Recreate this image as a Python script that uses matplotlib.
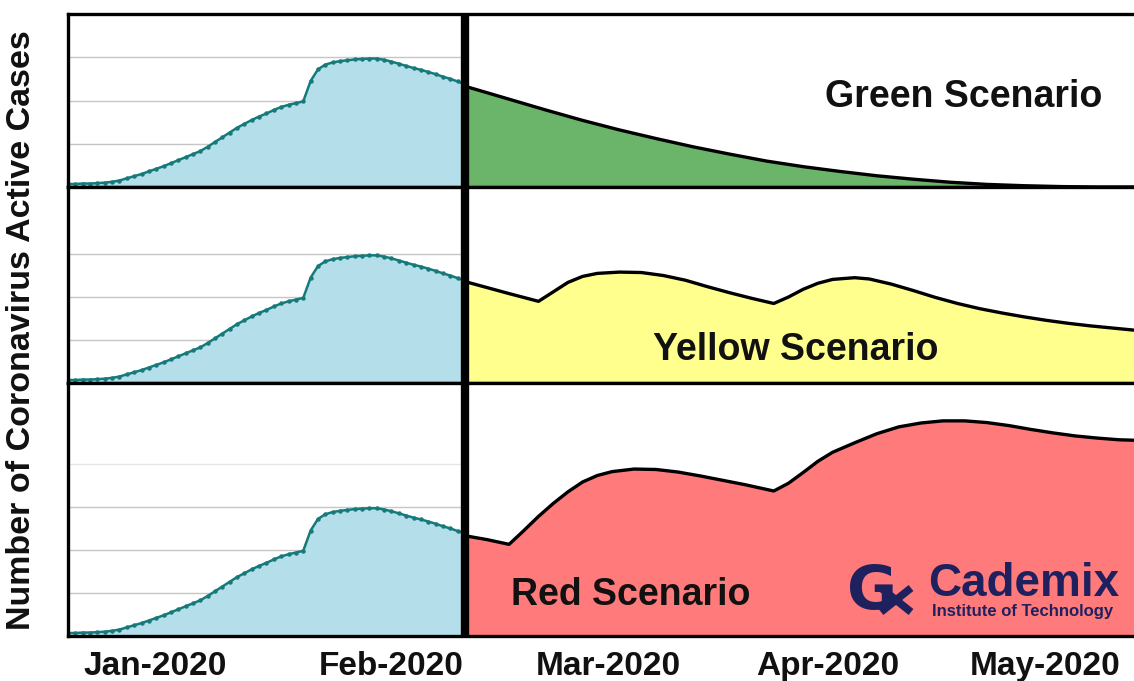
import numpy as np
import matplotlib.pyplot as plt
from matplotlib.lines import Line2D

plt.rcParams['font.family'] = ['Liberation Sans', 'DejaVu Sans']

# x is days since the start of the record; y is in gridline units
hist_days = list(range(0, 55))
hist_cases = [0.07, 0.07, 0.08, 0.08, 0.09, 0.10, 0.12, 0.15, 0.20, 0.25,
              0.30, 0.36, 0.42, 0.48, 0.55, 0.62, 0.69, 0.76, 0.83, 0.93,
              1.04, 1.15, 1.26, 1.37, 1.46, 1.55, 1.63, 1.70, 1.78, 1.85,
              1.90, 1.94, 1.98, 2.45, 2.72, 2.83, 2.88, 2.91, 2.93, 2.95,
              2.96, 2.97, 2.97, 2.94, 2.90, 2.85, 2.80, 2.75, 2.71, 2.66,
              2.61, 2.55, 2.50, 2.44, 2.38]

green_days = [54, 57, 60, 65, 70, 75, 80, 85, 90, 95, 100, 105, 110, 115,
              120, 125, 130, 135, 140, 145]
green_cases = [2.33, 2.18, 2.03, 1.78, 1.54, 1.32, 1.12, 0.93, 0.76, 0.60,
               0.47, 0.36, 0.26, 0.18, 0.11, 0.06, 0.03, 0.01, 0.0, 0.0]

yellow_days = [54, 57, 60, 64, 66, 68, 70, 72, 75, 78, 81, 84, 87, 90, 93,
               96, 98, 100, 102, 104, 107, 109, 112, 115, 118, 121, 124,
               127, 130, 133, 136, 139, 142, 145]
yellow_cases = [2.36, 2.22, 2.08, 1.90, 2.12, 2.34, 2.48, 2.55, 2.58, 2.57,
                2.50, 2.39, 2.24, 2.10, 1.97, 1.85, 2.00, 2.18, 2.32, 2.41,
                2.45, 2.42, 2.30, 2.15, 1.99, 1.85, 1.73, 1.63, 1.54, 1.46,
                1.39, 1.33, 1.28, 1.23]

red_days = [54, 57, 60, 62, 64, 66, 68, 70, 72, 74, 77, 80, 83, 86, 89, 92,
            96, 98, 100, 102, 104, 107, 110, 113, 116, 119, 122, 125, 128,
            131, 134, 137, 140, 143, 145]
red_cases = [2.33, 2.24, 2.13, 2.45, 2.78, 3.08, 3.35, 3.58, 3.73, 3.82,
             3.88, 3.87, 3.81, 3.72, 3.62, 3.52, 3.37, 3.55, 3.80, 4.06,
             4.27, 4.49, 4.70, 4.86, 4.95, 5.00, 5.00, 4.96, 4.89, 4.80,
             4.72, 4.65, 4.60, 4.56, 4.55]

month_ticks = [11.8, 44.0, 73.5, 103.4, 132.9]
month_labels = ['Jan-2020', 'Feb-2020', 'Mar-2020', 'Apr-2020', 'May-2020']

split_day = 54
x_end = 145

scenarios = [
    ('Green Scenario', green_days, green_cases, '#6bb56b', (121.9, 2.07), 4.0),
    ('Yellow Scenario', yellow_days, yellow_cases, '#ffff8e', (99.0, 0.77), 4.56),
    ('Red Scenario', red_days, red_cases, '#ff7b7b', (76.5, 0.95), 5.88),
]

fig = plt.figure(figsize=(11.34, 6.81), dpi=100)
gs = fig.add_gridspec(3, 1, height_ratios=[173, 196, 253], hspace=0,
                      left=68/1134, right=1.0, top=1-14/681, bottom=1-636/681)

for i, (name, xs, ys, col, tpos, ymax) in enumerate(scenarios):
    ax = fig.add_subplot(gs[i])
    ax.set_xlim(0, x_end)
    ax.set_ylim(0, ymax)

    # gridlines only on the historical side
    ax.hlines([1, 2, 3], 0, split_day, color='#c6c6c6', lw=1.0, zorder=1)
    if i == 2:
        ax.hlines([4], 0, split_day, color='#e6e6e6', lw=1.0, zorder=1)

    ax.fill_between(hist_days, hist_cases, 0, color='#b4dfea', zorder=2)
    ax.plot(hist_days, hist_cases, color='#167a7a', lw=1.8, marker='o',
            ms=2.2, zorder=3)

    ax.fill_between(xs, ys, 0, color=col, zorder=2)
    ax.plot(xs, ys, color='black', lw=2.4, zorder=3)

    ax.axvline(split_day, color='black', lw=6, zorder=5)

    ax.text(tpos[0], tpos[1], name, ha='center', va='center',
            fontsize=27, fontweight='bold', color='#111111', zorder=6)

    for s in ['left', 'top', 'bottom']:
        ax.spines[s].set_linewidth(2.4)
        ax.spines[s].set_zorder(6)
    ax.spines['right'].set_visible(False)
    ax.set_yticks([])
    if i == 2:
        ax.set_xticks(month_ticks)
        ax.set_xticklabels(month_labels, fontsize=24, fontweight='bold',
                           color='#111111')
        ax.tick_params(axis='x', length=0, pad=11)
    else:
        ax.set_xticks([])

fig.text(22/1134, 1-330/681, 'Number of Coronavirus Active Cases',
         rotation=90, ha='center', va='center', fontsize=24.5,
         fontweight='bold', color='#111111')

# logo
navy = '#1f205e'
fig.text(847/1134, 1-609/681, 'G', fontsize=44, fontweight='bold',
         color=navy, ha='left', va='baseline', family='DejaVu Sans')
for (x0, y0, x1, y1) in [(881, 588, 911, 612), (881, 612, 911, 588)]:
    fig.add_artist(Line2D([x0/1134, x1/1134], [1-y0/681, 1-y1/681],
                          color=navy, lw=5.5, solid_capstyle='butt',
                          transform=fig.transFigure))
fig.text(928/1134, 1-596/681, 'Cademix', fontsize=33, fontweight='bold',
         color=navy, ha='left', va='baseline')
fig.text(932/1134, 1-616/681, 'Institute of Technology', fontsize=12,
         fontweight='bold', color=navy, ha='left', va='baseline')

fig.savefig('out.png', dpi=100)
